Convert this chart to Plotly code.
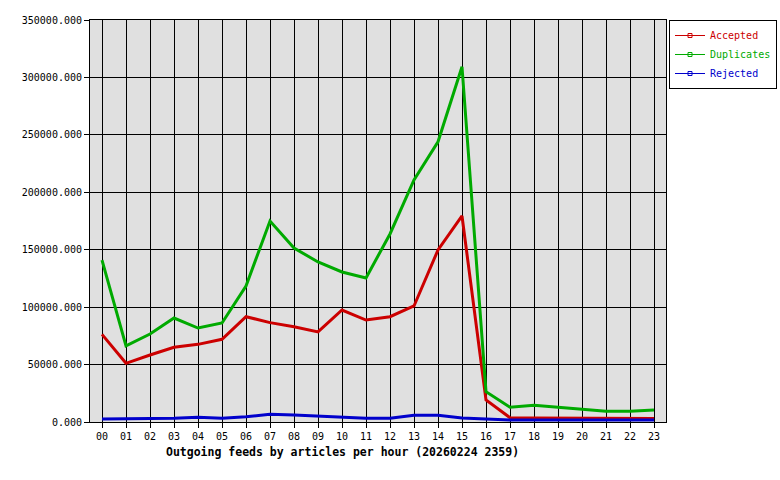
import plotly.graph_objects as go

hours = [f"{h:02d}" for h in range(24)]
accepted = [76300, 51100, 58300, 65000, 67600, 72000, 91700, 86500, 83000, 78400, 97500, 88800,
            91700, 101000, 149750, 179400, 19150, 3800, 3500, 3300, 3200, 3000, 3000, 3000]
duplicates = [141000, 66200, 76600, 90500, 81800, 86200, 118400, 175000, 151500, 139300, 130600, 125400,
              163700, 210700, 244000, 309300, 26400, 12800, 14500, 12800, 11600, 9300, 9300, 10400]
rejected = [2600, 2600, 2600, 3200, 4100, 3200, 4600, 6700, 6100, 5200, 4400, 3300,
            3200, 5800, 5800, 3500, 2600, 1700, 1700, 1700, 1700, 1700, 1700, 1700]

series = [("Accepted", accepted, "#cc0000"),
          ("Duplicates", duplicates, "#00aa00"),
          ("Rejected", rejected, "#0000cc")]

FONT = "DejaVu Sans Mono"
fig = go.Figure()
for name, vals, col in series:
    fig.add_trace(go.Scatter(
        x=hours, y=vals, mode="lines", showlegend=False,
        line=dict(color=col, width=3),
    ))
# legend-only entries (thin line with small square marker, like the original key)
for name, vals, col in series:
    fig.add_trace(go.Scatter(
        x=[None], y=[None], mode="lines+markers",
        name=f'<span style="color:{col}">{name}</span>',
        line=dict(color=col, width=1),
        marker=dict(symbol="square-open", size=4, color=col, line=dict(width=1, color=col)),
    ))

fig.update_layout(
    width=780, height=480,
    margin=dict(l=90, r=114, t=20, b=58, autoexpand=False),
    paper_bgcolor="white", plot_bgcolor="#e0e0e0",
    font=dict(family=FONT, size=10, color="black"),
    showlegend=True,
    legend=dict(x=(777 - 90) / 576, y=1.0, xanchor="right", yanchor="top",
                bgcolor="white", bordercolor="black", borderwidth=1,
                font=dict(family=FONT, size=10), tracegroupgap=0,
                itemwidth=30),
    xaxis=dict(type="category", range=[-0.5, 23.5], tickmode="array",
               tickvals=hours, ticktext=hours,
               showgrid=True, gridcolor="black", gridwidth=1,
               showline=True, linecolor="black", linewidth=1, mirror=True,
               ticks="outside", ticklen=5, tickcolor="black",
               zeroline=False),
    yaxis=dict(range=[0, 350000], tickmode="array",
               tickvals=[0, 50000, 100000, 150000, 200000, 250000, 300000, 350000],
               ticktext=["0.000", "50000.000", "100000.000", "150000.000", "200000.000",
                         "250000.000", "300000.000", "350000.000"],
               showgrid=True, gridcolor="black", gridwidth=1,
               showline=True, linecolor="black", linewidth=1, mirror=True,
               ticks="outside", ticklen=5, tickcolor="black",
               zeroline=False),
    annotations=[dict(text="<b>Outgoing feeds by articles per hour (20260224 2359)</b>",
                      xref="paper", yref="paper", x=0.4375, y=-0.075,
                      xanchor="center", yanchor="middle", showarrow=False,
                      font=dict(family=FONT, size=11.5, color="black"))],
)

fig.write_html("out.html")
